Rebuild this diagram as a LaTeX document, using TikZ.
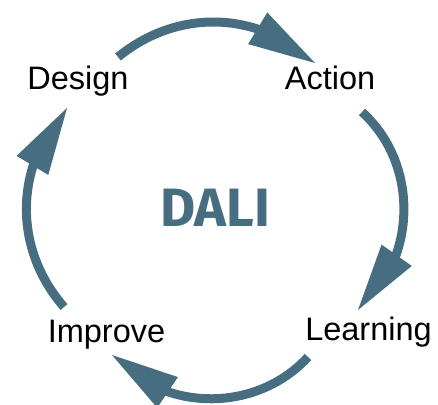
\documentclass[tikz,border=0pt]{standalone}
\usepackage{fontspec}
\setmainfont{Liberation Sans}
\newfontfamily\dalifont{Fira Sans}
\usetikzlibrary{arrows.meta, bending, positioning}
\definecolor{daliblue}{RGB}{71,110,128}
\tikzset{
x=1pt, y=1pt, % one unit is one pixel of the sketch
stage/.style={anchor=base, font=\fontsize{32.5}{38}\selectfont}, % the four step labels
loop arrow/.style={color=daliblue, line width=9pt, -{Triangle[length=67pt, width=37pt, line width=0pt, flex]}}, % thick curved arrows
}

\begin{document}
\begin{tikzpicture}
      \useasboundingbox (0,0) rectangle (438,404);
      \node[stage] (design) at (78,314) {Design};
      \node[stage] (action) at (330,314) {Action};
      \node[stage] (learning) at (368.5,64) {Learning};
      \node[stage] (improve) at (106.5,62) {Improve};
      \node[anchor=base, text=daliblue, font=\dalifont\bfseries\fontsize{54}{60}\selectfont] (dali) at (215,177) {DALI};

      \coordinate (d1) at (118,347);
      \coordinate (a1) at (315,341);
      \coordinate (a2) at (362,292);
      \coordinate (l1) at (358,94);
      \coordinate (l2) at (308,47);
      \coordinate (i1) at (112,49);
      \coordinate (i2) at (64,97);
      \coordinate (d2) at (67,296);

      \path (d1) edge[loop arrow, bend left=41] (a1)
      (a2) edge[loop arrow, bend left=49] (l1)
      (l2) edge[loop arrow, bend left=48] (i1)
      (i2) edge[loop arrow, bend left=42] (d2);
    \end{tikzpicture}
\end{document}
